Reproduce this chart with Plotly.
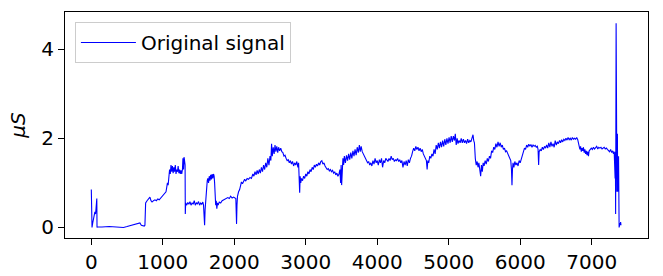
import plotly.graph_objects as go

sample_index = [
    0, 5, 10, 20, 30, 40, 50, 60, 70, 77, 80, 85, 150, 250, 350, 450, 500, 550, 600, 650, 680, 700, 720, 740, 750, 755,
    760, 780, 800, 820, 835, 850, 870, 890, 910, 930, 950, 970, 990, 1010, 1030, 1045, 1055, 1065, 1075, 1085, 1095, 1105,
    1115, 1125, 1135, 1145, 1155, 1165, 1175, 1185, 1195, 1205, 1215, 1225, 1235, 1245, 1255, 1265, 1275, 1282, 1290, 1298,
    1305, 1312, 1315,
    1320, 1335, 1350, 1365, 1380, 1395, 1410, 1425, 1440, 1455, 1470, 1485, 1500, 1515, 1530, 1545, 1560, 1570, 1578, 1585,
    1592, 1600, 1608, 1615, 1622, 1630, 1640, 1650, 1660, 1670, 1680, 1690, 1700, 1710, 1718, 1725, 1732, 1740, 1748, 1756,
    1765, 1775, 1790, 1810, 1830, 1850, 1870, 1890, 1910, 1930, 1950, 1970, 1990, 2010, 2022, 2028, 2032, 2038, 2045, 2060,
    2075, 2090, 2100, 2115, 2130, 2145, 2160, 2180, 2200, 2220, 2240, 2260, 2275, 2290, 2305, 2320, 2335, 2350, 2365, 2380,
    2395, 2410, 2425, 2440, 2455, 2470, 2485, 2500, 2512, 2522, 2532, 2545, 2558, 2570, 2582, 2595, 2608, 2620, 2635, 2650,
    2665, 2680, 2695, 2710, 2725, 2740, 2755, 2770, 2785, 2800, 2815, 2830, 2845, 2860, 2875, 2890, 2900, 2908, 2915, 2922,
    2930, 2940, 2955, 2970, 2985, 3000, 3015, 3030, 3045, 3060, 3075, 3090, 3105, 3120, 3135, 3150, 3165, 3180, 3195, 3210,
    3225, 3240, 3255, 3270, 3285, 3300, 3315, 3330, 3345, 3360, 3375, 3390, 3405, 3420, 3435, 3450, 3465, 3478, 3488, 3495,
    3502, 3510, 3520, 3530, 3540, 3555, 3570, 3585, 3600, 3615, 3630, 3645, 3660, 3675, 3690, 3705, 3720, 3735, 3750, 3762,
    3775, 3790, 3805, 3820, 3835, 3850, 3865, 3880, 3895, 3910, 3925, 3940, 3955, 3970, 3985, 4000, 4015, 4030, 4045, 4060,
    4075, 4090, 4105, 4120, 4135, 4150, 4165, 4180, 4195, 4210, 4225, 4240, 4255, 4270, 4285, 4300, 4315, 4330, 4345, 4360,
    4375, 4390, 4405, 4420, 4435, 4450, 4465, 4480, 4495, 4510, 4525, 4540, 4555, 4570, 4585, 4600, 4615, 4630, 4645, 4660,
    4675, 4688, 4698, 4708, 4720, 4735, 4750, 4765, 4780, 4795, 4810, 4825, 4840, 4855, 4870, 4885, 4900, 4915, 4930, 4945,
    4960, 4975, 4990, 5005, 5020, 5035, 5050, 5065, 5080, 5092, 5105, 5118, 5130, 5145, 5160, 5175, 5190, 5205, 5220, 5235,
    5250, 5265, 5280, 5295, 5310, 5325, 5340, 5350, 5360, 5372, 5385, 5398, 5410, 5422, 5435, 5447, 5458, 5470, 5482, 5495,
    5510, 5525, 5540, 5555, 5570, 5585, 5600, 5615, 5630, 5645, 5660, 5675, 5690, 5705, 5720, 5735, 5750, 5765, 5780, 5795,
    5810, 5825, 5840, 5855, 5868, 5878, 5885, 5892, 5900, 5912, 5925, 5940, 5955, 5970, 5985, 6000, 6015, 6030, 6045, 6060,
    6075, 6090, 6105, 6120, 6135, 6150, 6165, 6180, 6195, 6210, 6225, 6240, 6250, 6258, 6265, 6280, 6295, 6310, 6325, 6340,
    6355, 6370, 6385, 6400, 6415, 6430, 6445, 6460, 6475, 6490, 6505, 6520, 6535, 6550, 6565, 6580, 6595, 6610, 6625, 6640,
    6655, 6670, 6685, 6700, 6715, 6730, 6745, 6760, 6775, 6790, 6805, 6815, 6825, 6835, 6845, 6855, 6865, 6875, 6885, 6895,
    6905, 6915, 6925, 6935, 6945, 6955, 6965, 6980, 6995, 7010, 7025, 7040, 7055, 7070, 7085, 7100, 7115, 7130, 7145, 7160,
    7175, 7190, 7205, 7220, 7235, 7250, 7265, 7280, 7295, 7305, 7315, 7320, 7325, 7328, 7332, 7335, 7338, 7342, 7346, 7350,
    7353, 7356, 7360, 7364, 7368, 7372, 7376, 7380, 7384, 7390, 7395, 7400, 7405, 7410,
]

signal_us = [
    0.85, 0.0, 0.0, 0.1, 0.2, 0.3, 0.35, 0.3, 0.5, 0.65, 0.0, 0.01, 0.01, 0.02, 0.01, 0.0, 0.02, 0.04, 0.06, 0.08, 0.1, 0.05, 0.04, 0.03, 0.05, 0.3,
    0.55, 0.6, 0.65, 0.68, 0.6, 0.57, 0.6, 0.62, 0.6, 0.64, 0.62, 0.66, 0.68, 0.72, 0.76, 0.8, 0.9, 1.0, 0.95, 1.15, 1.3, 1.2,
    1.4, 1.25, 1.38, 1.22, 1.35, 1.25, 1.4, 1.2, 1.3, 1.25, 1.38, 1.22, 1.3, 1.2, 1.28, 1.2, 1.3, 1.55, 1.3, 1.58,
    1.5, 1.4, 0.3,
    0.55, 0.5, 0.56, 0.52, 0.58, 0.5, 0.55, 0.52, 0.6, 0.5, 0.55, 0.53, 0.58, 0.5, 0.55, 0.52, 0.57, 0.5, 0.3, 0.05,
    0.4, 0.65, 0.8, 0.95, 1.05, 1.1, 1.0, 1.15, 1.05, 1.18, 1.08, 1.2, 1.1, 1.2, 1.15, 1.0, 0.7, 0.5, 0.6, 0.42,
    0.55, 0.5, 0.57, 0.55, 0.6, 0.62, 0.63, 0.65, 0.67, 0.65, 0.7, 0.66, 0.68, 0.66, 0.65, 0.3, 0.08, 0.5, 0.7, 0.8,
    0.85, 0.95, 1.02, 0.98, 1.05, 1.08, 1.04, 1.1, 1.08, 1.12, 1.1, 1.2, 1.15, 1.25, 1.18, 1.28, 1.2, 1.3, 1.22, 1.35,
    1.25, 1.4, 1.3, 1.45, 1.35, 1.55, 1.4, 1.6, 1.5, 1.88, 1.6, 1.8, 1.65, 1.85, 1.7, 1.82, 1.68, 1.8, 1.72, 1.78,
    1.7, 1.68, 1.6, 1.62, 1.55, 1.5, 1.52, 1.45, 1.5, 1.42, 1.48, 1.38, 1.45, 1.4, 1.48, 1.35, 1.45, 1.2, 0.78, 1.15,
    1.0, 1.1, 1.05, 1.15, 1.1, 1.2, 1.15, 1.25, 1.2, 1.3, 1.25, 1.35, 1.3, 1.4, 1.35, 1.42, 1.38, 1.45, 1.4, 1.48,
    1.5, 1.42, 1.45, 1.38, 1.35, 1.3, 1.32, 1.27, 1.3, 1.25, 1.28, 1.22, 1.25, 1.18, 1.22, 1.15, 1.2, 1.3, 1.0, 1.4,
    0.95, 1.45, 1.55, 1.4, 1.6, 1.45, 1.62, 1.5, 1.65, 1.52, 1.68, 1.55, 1.72, 1.6, 1.75, 1.62, 1.8, 1.68, 1.85, 1.7,
    1.82, 1.7, 1.65, 1.6, 1.55, 1.5, 1.45, 1.48, 1.4, 1.45, 1.38, 1.5, 1.42, 1.55, 1.45, 1.5, 1.4, 1.52, 1.45, 1.55,
    1.35, 1.5, 1.45, 1.55, 1.5, 1.48, 1.55, 1.5, 1.6, 1.52, 1.55, 1.48, 1.52, 1.5, 1.55, 1.48, 1.52, 1.45, 1.5, 1.35,
    1.48, 1.4, 1.5, 1.38, 1.52, 1.45, 1.55, 1.6, 1.7, 1.78, 1.72, 1.82, 1.75, 1.8, 1.72, 1.78, 1.7, 1.75, 1.65, 1.6,
    1.55, 1.5, 1.3, 1.5, 1.45, 1.6, 1.55, 1.65, 1.6, 1.75, 1.65, 1.85, 1.75, 1.9, 1.78, 1.92, 1.8, 1.95, 1.82, 1.98,
    1.85, 2.0, 1.88, 2.02, 1.9, 2.05, 1.92, 2.05, 1.95, 2.1, 1.85, 2.0, 1.88, 1.95, 1.9, 2.0, 1.9, 1.98, 1.9, 1.95,
    1.88, 1.98, 1.9, 1.95, 1.92, 2.02, 2.08, 1.95, 1.9, 1.55, 1.4, 1.48, 1.35, 1.45, 1.3, 1.15, 1.4, 1.25, 1.45, 1.38,
    1.5, 1.42, 1.55, 1.48, 1.6, 1.55, 1.72, 1.68, 1.8, 1.75, 1.88, 1.8, 1.92, 1.82, 1.9, 1.8, 1.85, 1.75, 1.78, 1.7,
    1.72, 1.65, 1.6, 1.55, 1.5, 1.3, 0.95, 1.3, 1.45, 1.35, 1.48, 1.4, 1.45, 1.38, 1.5, 1.45, 1.55, 1.65, 1.72, 1.78,
    1.75, 1.85, 1.8, 1.87, 1.82, 1.86, 1.8, 1.85, 1.82, 1.84, 1.8, 1.82, 1.75, 1.4, 1.7, 1.75, 1.72, 1.8, 1.75, 1.82,
    1.78, 1.85, 1.78, 1.9, 1.8, 1.92, 1.82, 1.88, 1.8, 1.95, 1.85, 1.92, 1.88, 1.95, 1.9, 1.97, 1.92, 1.98, 1.95, 2.0,
    1.96, 2.02, 1.97, 2.0, 1.96, 2.02, 1.98, 2.0, 1.98, 2.02, 1.97, 1.9, 1.8, 1.75, 1.82, 1.7, 1.78, 1.72, 1.8, 1.68,
    1.75, 1.65, 1.72, 1.62, 1.7, 1.6, 1.72, 1.75, 1.78, 1.75, 1.8, 1.76, 1.78, 1.82, 1.76, 1.8, 1.78, 1.8, 1.76, 1.78,
    1.8, 1.76, 1.78, 1.75, 1.72, 1.7, 1.75, 1.68, 1.72, 1.65, 1.7, 1.3, 1.6, 1.1, 1.7, 0.3, 1.9, 4.58, 1.5, 2.0,
    0.8, 1.8, 2.1, 0.8, 1.7, 1.2, 1.6, 0.5, 0.0, 0.05, 0.1, 0.05, 0.12, 0.05,
]

x_ticks = [0, 1000, 2000, 3000, 4000, 5000, 6000, 7000]
y_ticks = [0, 2, 4]

font_family = "DejaVu Sans"
fs = 20

fig = go.Figure()
fig.add_trace(go.Scatter(
    x=sample_index, y=signal_us, mode="lines", name="Original signal",
    line=dict(color="#0000ff", width=1.1),
))

fig.update_layout(
    width=663, height=276,
    margin=dict(l=65, r=15, t=12, b=38),
    paper_bgcolor="white", plot_bgcolor="white",
    font=dict(family=font_family, size=fs, color="black"),
    showlegend=True,
    legend=dict(
        x=0.017, y=0.956, xanchor="left", yanchor="top",
        bgcolor="rgba(255,255,255,0.8)", bordercolor="#cccccc", borderwidth=1,
        font=dict(family=font_family, size=fs, color="black"),
        itemwidth=55,
    ),
)
fig.update_xaxes(
    range=[-368, 7788], tickvals=x_ticks, ticktext=[str(v) for v in x_ticks],
    showgrid=False, zeroline=False, showline=True, linecolor="black", linewidth=1.2,
    mirror=True, ticks="outside", ticklen=6, tickcolor="black", automargin=False,
    tickfont=dict(family=font_family, size=fs, color="black"),
)
fig.update_yaxes(
    range=[-0.237, 4.835], tickvals=y_ticks, ticktext=[str(v) for v in y_ticks],
    showgrid=False, zeroline=False, showline=True, linecolor="black", linewidth=1.2,
    mirror=True, ticks="outside", ticklen=6, tickcolor="black", automargin=False,
    tickfont=dict(family=font_family, size=fs, color="black"),
    title=dict(text="<i>μS</i>", font=dict(family=font_family, size=fs, color="black"), standoff=10),
)

fig.write_html("out.html")
